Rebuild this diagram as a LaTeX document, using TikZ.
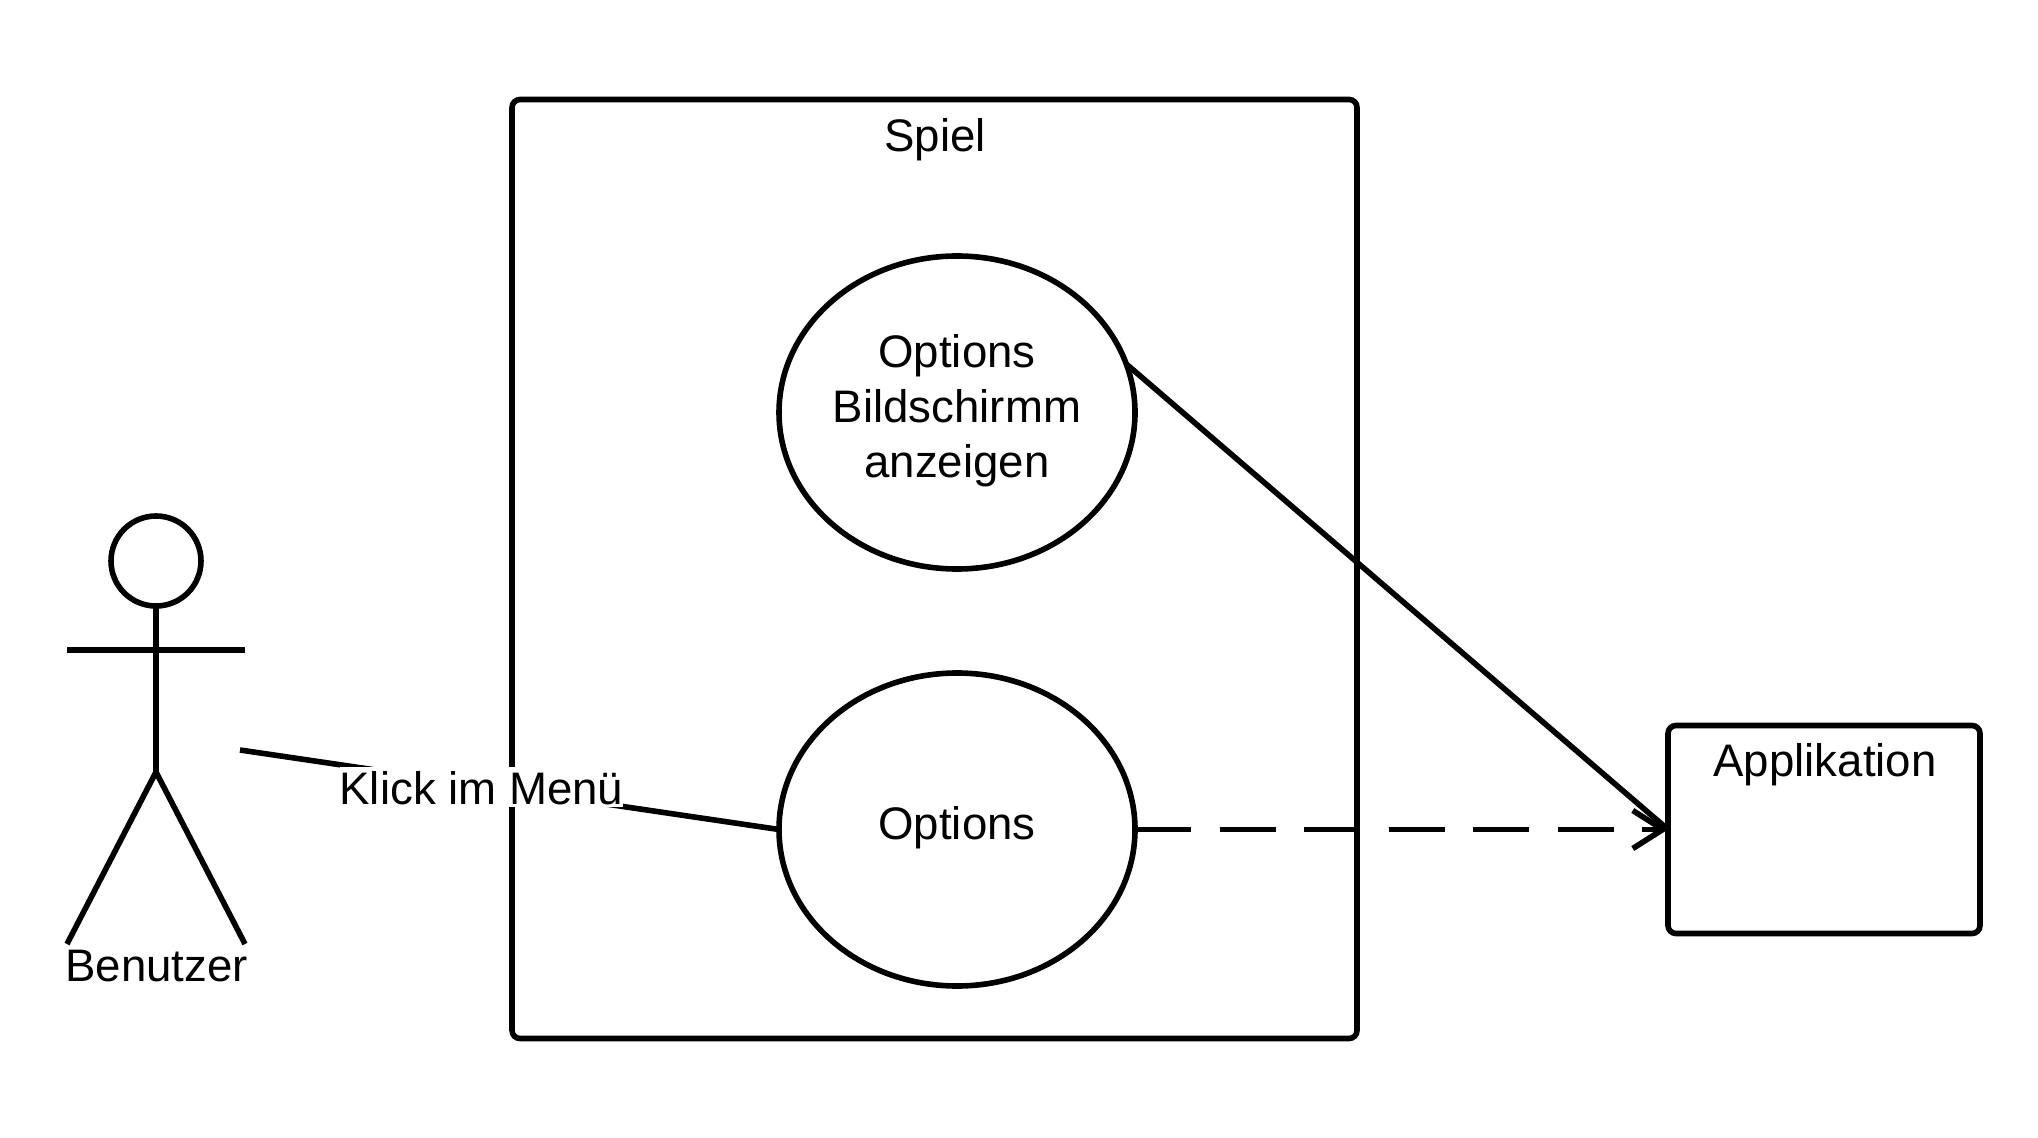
\documentclass[tikz,border=0pt]{standalone}
\usepackage{fontspec}
\setmainfont{Liberation Sans}
\usetikzlibrary{shapes.geometric,arrows.meta}
\tikzset{
  umlline/.style={line width=2.8pt,black},
  umltext/.style={font=\fontsize{22.8}{27.6}\selectfont,align=center,inner sep=0pt},
  usecase/.style={umlline,draw,ellipse,minimum width=178pt,minimum height=156.5pt,inner sep=0pt,outer sep=0pt,umltext,text depth=6.6pt},
  umlbox/.style={umlline,draw,rectangle,rounded corners=4pt,inner sep=0pt,outer sep=0pt}
}

\begin{document}
\begin{tikzpicture}[x=0.5pt,y=-0.5pt]
  \useasboundingbox (0,0) rectangle (2038,1138);
  % System frame and external box
  \node[umlbox,minimum width=422.5pt,minimum height=469.5pt] (spiel) at (934.5,569) {};
  \node[umlbox,minimum width=156pt,minimum height=104pt] (applikation) at (1824,829.5) {};
  \node[umltext,anchor=base] (spieltitel) at (935,152) {Spiel};
  \node[umltext,anchor=base] (applikationtitel) at (1825,776) {Applikation};
  % Use cases
  \node[usecase] (optbild) at (957,412.5) {Options\\Bildschirmm\\anzeigen};
  \node[usecase] (optmenu) at (957,829.5) {Options};
  % Actor
  \node[umlline,circle,draw,minimum size=45pt,inner sep=0pt,outer sep=0pt] (kopf) at (156,561) {};
  \coordinate (armL) at (67,650);
  \coordinate (armR) at (245,650);
  \coordinate (huefte) at (156,772);
  \coordinate (beinL) at (67,944);
  \coordinate (beinR) at (245,944);
  \coordinate (klickstart) at (240,750);
  \draw[umlline] (kopf.south) -- (huefte);
  \draw[umlline] (armL) -- (armR);
  \draw[umlline] (beinL) -- (huefte) -- (beinR);
  \node[umltext,anchor=base] (benutzer) at (156.5,981) {Benutzer};
  % Connectors
  \draw[umlline] (klickstart) -- (optmenu.west)
    node[pos=0.448,umltext,fill=white,inner ysep=1pt,text height=17.7pt,yshift=-0.65pt] (klick) {Klick im Menü};
  \draw[umlline] (optbild.16) -- (applikation.west);
  \draw[umlline,dash pattern=on 28pt off 14.25pt,-{Straight Barb[length=15pt,width=19pt]}] (optmenu.east) -- (applikation.west);
\end{tikzpicture}
\end{document}
